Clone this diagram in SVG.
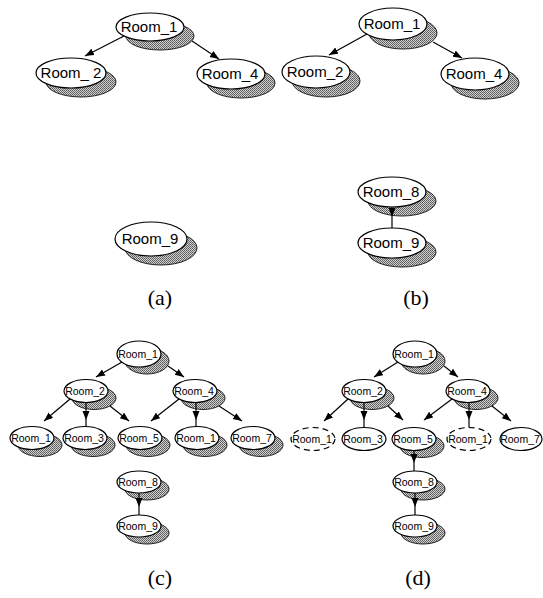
<svg xmlns="http://www.w3.org/2000/svg" width="543" height="598" viewBox="0 0 543 598">
<style>
.sh{fill:url(#dither);stroke:#222;stroke-width:1}
.nd{fill:#fff;stroke:#000;stroke-width:1.2}
.ds{fill:#fff;stroke:#000;stroke-width:1.2;stroke-dasharray:6,4}
.t1{font-family:"Liberation Sans",Arial,sans-serif;font-size:15px;text-anchor:middle;fill:#000}
.t2{font-family:"Liberation Sans",Arial,sans-serif;font-size:10.5px;text-anchor:middle;fill:#000}
.cap{font-family:"Liberation Serif","Times New Roman",serif;font-size:22px;text-anchor:middle;fill:#000}
.ed{fill:none;stroke:#000;stroke-width:1.2}
.ea{marker-end:url(#ah)}
.em{marker-mid:url(#ah)}
</style>
<defs>
<pattern id="dither" width="2" height="2" patternUnits="userSpaceOnUse">
<rect width="2" height="2" fill="#d0d0d0"/>
<rect x="0" y="0" width="1" height="1" fill="#5a5a5a"/>
<rect x="1" y="1" width="1" height="1" fill="#6a6a6a"/>
</pattern>
<marker id="ah" markerUnits="userSpaceOnUse" markerWidth="10" markerHeight="8" refX="9" refY="3.5" orient="auto">
<path d="M0,0 L9,3.5 L0,7 z" fill="#000"/>
</marker>
</defs>
<rect width="543" height="598" fill="#fff"/>

<!-- Panel (a) -->
<g id="a_room1"><ellipse class="sh" cx="160" cy="36" rx="34" ry="14"/><ellipse class="nd" cx="150" cy="27" rx="34" ry="14"/><text class="t1" x="149" y="32">Room_1</text></g>
<g id="a_room2"><ellipse class="sh" cx="81" cy="82" rx="35" ry="15"/><ellipse class="nd" cx="71" cy="73" rx="35" ry="15"/><text class="t1" x="71" y="78">Room_ 2</text></g>
<g id="a_room4"><ellipse class="sh" cx="241" cy="83" rx="34" ry="15"/><ellipse class="nd" cx="231" cy="74" rx="34" ry="15"/><text class="t1" x="230" y="79">Room_4</text></g>
<g id="a_room9"><ellipse class="sh" cx="161" cy="248" rx="36" ry="17"/><ellipse class="nd" cx="151" cy="239" rx="36" ry="17"/><text class="t1" x="150" y="244">Room_9</text></g>

<!-- Panel (b) -->
<g id="b_room1"><ellipse class="sh" cx="403" cy="33" rx="34" ry="16"/><ellipse class="nd" cx="393" cy="24" rx="34" ry="16"/><text class="t1" x="392" y="29">Room_1</text></g>
<g id="b_room2"><ellipse class="sh" cx="326" cy="81" rx="34" ry="16"/><ellipse class="nd" cx="316" cy="72" rx="34" ry="16"/><text class="t1" x="315" y="77">Room_2</text></g>
<g id="b_room4"><ellipse class="sh" cx="485" cy="83" rx="34" ry="16"/><ellipse class="nd" cx="475" cy="74" rx="34" ry="16"/><text class="t1" x="474" y="79">Room_4</text></g>
<g id="b_room8"><ellipse class="sh" cx="402" cy="201" rx="34" ry="15"/><ellipse class="nd" cx="392" cy="192" rx="34" ry="15"/><text class="t1" x="391" y="197">Room_8</text></g>
<g id="b_room9"><ellipse class="sh" cx="402" cy="252" rx="34" ry="15"/><ellipse class="nd" cx="392" cy="243" rx="34" ry="15"/><text class="t1" x="391" y="248">Room_9</text></g>

<!-- Panel (c) -->
<g id="c_room1"><ellipse class="sh" cx="147" cy="361" rx="22" ry="13"/><ellipse class="nd" cx="139" cy="354" rx="22" ry="13"/><text class="t2" x="138" y="358">Room_1</text></g>
<g id="c_room2"><ellipse class="sh" cx="94" cy="398" rx="22" ry="11.5"/><ellipse class="nd" cx="86" cy="391" rx="22" ry="11.5"/><text class="t2" x="85" y="395">Room_2</text></g>
<g id="c_room4"><ellipse class="sh" cx="203" cy="398" rx="22" ry="11.5"/><ellipse class="nd" cx="195" cy="391" rx="22" ry="11.5"/><text class="t2" x="194" y="395">Room_4</text></g>
<g id="c_room1_l"><ellipse class="sh" cx="40" cy="445" rx="22" ry="11.5"/><ellipse class="nd" cx="32" cy="438" rx="22" ry="11.5"/><text class="t2" x="31" y="442">Room_1</text></g>
<g id="c_room3"><ellipse class="sh" cx="93" cy="445" rx="22" ry="11.5"/><ellipse class="nd" cx="85" cy="438" rx="22" ry="11.5"/><text class="t2" x="84" y="442">Room_3</text></g>
<g id="c_room5"><ellipse class="sh" cx="148" cy="445" rx="22" ry="11.5"/><ellipse class="nd" cx="140" cy="438" rx="22" ry="11.5"/><text class="t2" x="139" y="442">Room_5</text></g>
<g id="c_room1_r"><ellipse class="sh" cx="205" cy="445" rx="22" ry="11.5"/><ellipse class="nd" cx="197" cy="438" rx="22" ry="11.5"/><text class="t2" x="196" y="442">Room_1</text></g>
<g id="c_room7"><ellipse class="sh" cx="261" cy="445" rx="22" ry="11.5"/><ellipse class="nd" cx="253" cy="438" rx="22" ry="11.5"/><text class="t2" x="252" y="442">Room_7</text></g>
<g id="c_room8"><ellipse class="sh" cx="147" cy="489" rx="22" ry="11"/><ellipse class="nd" cx="139" cy="482" rx="22" ry="11"/><text class="t2" x="138" y="486">Room_8</text></g>
<g id="c_room9"><ellipse class="sh" cx="147" cy="533" rx="22" ry="11"/><ellipse class="nd" cx="139" cy="526" rx="22" ry="11"/><text class="t2" x="138" y="530">Room_9</text></g>

<!-- Panel (d) -->
<g id="d_room1"><ellipse class="sh" cx="423" cy="361" rx="22" ry="13"/><ellipse class="nd" cx="415" cy="354" rx="22" ry="13"/><text class="t2" x="414" y="358">Room_1</text></g>
<g id="d_room2"><ellipse class="sh" cx="372" cy="398" rx="22" ry="11.5"/><ellipse class="nd" cx="364" cy="391" rx="22" ry="11.5"/><text class="t2" x="363" y="395">Room_2</text></g>
<g id="d_room4"><ellipse class="sh" cx="476" cy="398" rx="22" ry="11.5"/><ellipse class="nd" cx="468" cy="391" rx="22" ry="11.5"/><text class="t2" x="467" y="395">Room_4</text></g>
<g id="d_room1_l"><ellipse class="ds" cx="313" cy="439" rx="22" ry="11.5"/><text class="t2" x="312" y="443">Room_1</text></g>
<g id="d_room3"><ellipse class="nd" cx="364" cy="439" rx="22" ry="11.5"/><text class="t2" x="363" y="443">Room_3</text></g>
<g id="d_room5"><ellipse class="sh" cx="422" cy="446" rx="22" ry="11.5"/><ellipse class="nd" cx="414" cy="439" rx="22" ry="11.5"/><text class="t2" x="413" y="443">Room_5</text></g>
<g id="d_room1_r"><ellipse class="ds" cx="469" cy="439" rx="22" ry="11.5"/><text class="t2" x="468" y="443">Room_1</text></g>
<g id="d_room7"><ellipse class="nd" cx="521" cy="439" rx="21" ry="11.5"/><text class="t2" x="520" y="443">Room_7</text></g>
<g id="d_room8"><ellipse class="sh" cx="423" cy="489" rx="22" ry="11"/><ellipse class="nd" cx="415" cy="482" rx="22" ry="11"/><text class="t2" x="414" y="486">Room_8</text></g>
<g id="d_room9"><ellipse class="sh" cx="423" cy="533" rx="22" ry="11"/><ellipse class="nd" cx="415" cy="526" rx="22" ry="11"/><text class="t2" x="414" y="530">Room_9</text></g>

<!-- Connectors -->
<g id="connectors">
<line class="ed ea" x1="124" y1="36" x2="85" y2="56"/>
<line class="ed ea" x1="192" y1="41" x2="219" y2="59"/>

<line class="ed ea" x1="367" y1="34" x2="329" y2="55"/>
<line class="ed ea" x1="433" y1="42" x2="462" y2="58"/>
<polyline class="ed em" points="392,207 392,217 392,228"/>

<line class="ed ea" x1="122" y1="362" x2="96" y2="377"/>
<line class="ed ea" x1="168" y1="366" x2="184" y2="377"/>
<line class="ed ea" x1="70" y1="399" x2="44" y2="421"/>
<polyline class="ed em" points="86,403 86,420 86,427"/>
<line class="ed ea" x1="110" y1="406" x2="129" y2="421"/>
<line class="ed ea" x1="179" y1="399" x2="151" y2="421"/>
<polyline class="ed em" points="196,403 196,420 196,427"/>
<line class="ed ea" x1="219" y1="406" x2="242" y2="421"/>
<polyline class="ed em" points="139,493 139,507 139,515"/>

<line class="ed ea" x1="398" y1="362" x2="374" y2="377"/>
<line class="ed ea" x1="444" y1="366" x2="458" y2="377"/>
<line class="ed ea" x1="348" y1="399" x2="324" y2="421"/>
<polyline class="ed em" points="364,403 364,420 364,427"/>
<line class="ed ea" x1="388" y1="406" x2="403" y2="420"/>
<line class="ed ea" x1="452" y1="399" x2="424" y2="420"/>
<polyline class="ed em" points="469,403 469,420 469,427"/>
<line class="ed ea" x1="492" y1="406" x2="511" y2="421"/>
<polyline class="ed em" points="414,451 414,463 414,471"/>
<polyline class="ed em" points="415,493 415,507 415,515"/>
</g>

<!-- Captions -->
<text class="cap" x="160" y="305">(a)</text>
<text class="cap" x="416" y="305">(b)</text>
<text class="cap" x="160" y="585">(c)</text>
<text class="cap" x="418" y="585">(d)</text>
</svg>
